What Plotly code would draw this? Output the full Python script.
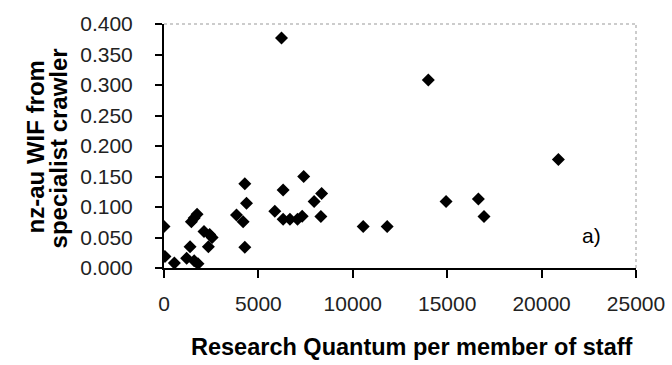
import plotly.graph_objects as go

# Research Quantum per member of staff
rq = [0, 50, 550, 1200, 1380, 1600, 1800, 1450, 1600, 1750, 2120, 2420, 2550, 2350,
      3840, 4190, 4280, 4370, 4280, 6225, 6310, 5870, 6310, 6670, 7070, 7320, 7400,
      7950, 8350, 8310, 10550, 11820, 14000, 14940, 16650, 16950, 20890]
# nz-au WIF from specialist crawler
wif = [0.068, 0.019, 0.008, 0.016, 0.035, 0.012, 0.007, 0.076, 0.082, 0.088, 0.060, 0.055, 0.050, 0.035,
       0.087, 0.076, 0.138, 0.106, 0.034, 0.377, 0.128, 0.093, 0.080, 0.080, 0.080, 0.085, 0.150,
       0.109, 0.122, 0.0845, 0.068, 0.068, 0.308, 0.109, 0.113, 0.0845, 0.178]

x_ticks = [0, 5000, 10000, 15000, 20000, 25000]
y_ticks = [0.0, 0.05, 0.10, 0.15, 0.20, 0.25, 0.30, 0.35, 0.40]

fig = go.Figure()
fig.add_trace(go.Scatter(x=rq, y=wif, mode="markers",
                         marker=dict(symbol="diamond", size=10, color="black",
                                     line=dict(width=0))))

font = "Liberation Sans, Arial, sans-serif"
fig.update_layout(
    width=672, height=365,
    margin=dict(l=164, r=36, t=24, b=97, autoexpand=False),
    paper_bgcolor="white", plot_bgcolor="white",
    showlegend=False,
    font=dict(family=font, color="black", size=21),
    xaxis=dict(range=[0, 25000], tickvals=x_ticks, ticktext=[str(v) for v in x_ticks],
               automargin=False,
               showgrid=False, zeroline=False, showline=True, linecolor="black", linewidth=2,
               ticks="outside", ticklen=8, tickwidth=2, tickcolor="black",
               ticklabelstandoff=8,
               tickfont=dict(size=21, color="#222")),
    yaxis=dict(range=[0, 0.4], tickvals=y_ticks, ticktext=[f"{v:.3f}" for v in y_ticks],
               automargin=False,
               showgrid=False, zeroline=False, showline=True, linecolor="black", linewidth=2,
               ticks="outside", ticklen=7, tickwidth=2, tickcolor="black",
               ticklabelstandoff=18,
               tickfont=dict(size=21, color="#222")),
    shapes=[
        dict(type="line", xref="paper", yref="paper", x0=0, x1=1, y0=1, y1=1,
             line=dict(color="#999", width=1, dash="dot")),
        dict(type="line", xref="paper", yref="paper", x0=1, x1=1, y0=0, y1=1,
             line=dict(color="#999", width=1, dash="dot")),
    ],
    annotations=[
        dict(text="<b>Research Quantum per member of staff</b>", xref="paper", yref="paper",
             x=(412 - 164.3) / 471.4, y=-(347 - 268.3) / 244.3, xanchor="center", yanchor="middle",
             showarrow=False, font=dict(size=23.5, family=font)),
        dict(text="<b>nz-au WIF from</b>", xref="paper", yref="paper",
             x=(36 - 164.3) / 471.4, y=(268.3 - 147) / 244.3, xanchor="center", yanchor="middle",
             textangle=-90, showarrow=False, font=dict(size=24, family=font)),
        dict(text="<b>specialist crawler</b>", xref="paper", yref="paper",
             x=(59 - 164.3) / 471.4, y=(268.3 - 149) / 244.3, xanchor="center", yanchor="middle",
             textangle=-90, showarrow=False, font=dict(size=24, family=font)),
        dict(text="a)", xref="paper", yref="paper",
             x=(591.7 - 164.3) / 471.4, y=(268.3 - 236) / 244.3, xanchor="center", yanchor="middle",
             showarrow=False, font=dict(size=21, family=font)),
    ],
)

fig.write_html("out.html", config={"displayModeBar": False},
               post_script="document.body.style.margin='0';document.body.style.overflow='hidden';")
